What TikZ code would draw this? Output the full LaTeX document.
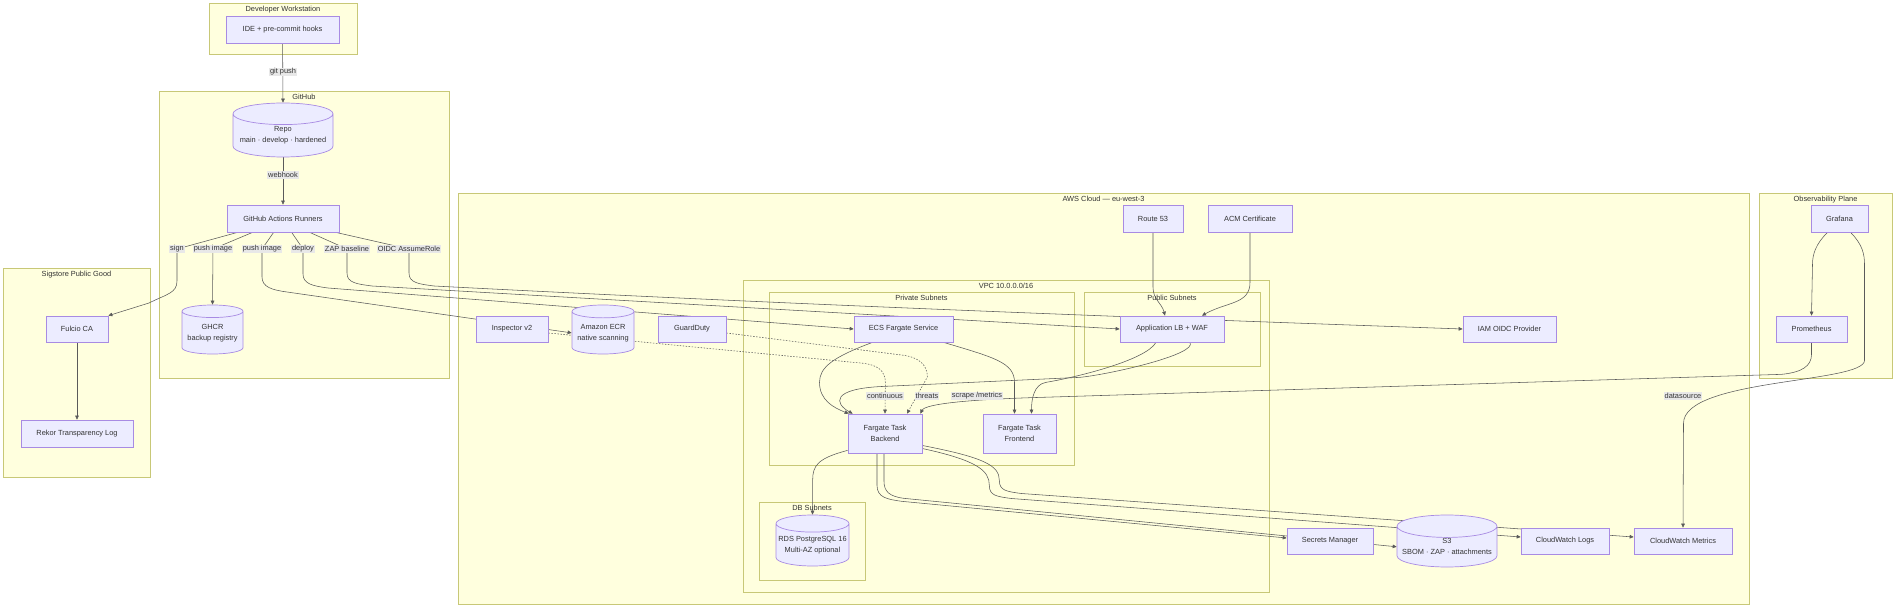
\documentclass[tikz,border=0pt]{standalone}
\usepackage{fontspec}
\setmainfont{Liberation Sans}
\usetikzlibrary{arrows.meta, shapes.geometric}
\definecolor{ink}{HTML}{333333}
\definecolor{wire}{HTML}{5A5A5A}
\definecolor{boxfill}{HTML}{ECECFF}
\definecolor{boxline}{HTML}{A88BE3}
\definecolor{grpfill}{HTML}{FFFFDE}
\definecolor{grpline}{HTML}{C8C877}
\definecolor{labfill}{HTML}{E8E8E8}
\pgfdeclarelayer{bg}
\pgfdeclarelayer{wires}
\pgfsetlayers{bg,wires,main}

\begin{document}
\begin{tikzpicture}[
    x=1pt, y=-1pt,
    every node/.style={font=\fontsize{7.4}{11}\selectfont, text=ink},
    svc/.style={rectangle, draw=boxline, fill=boxfill, line width=0.7pt,
                align=center, inner sep=0pt},
    store/.style={cylinder, shape border rotate=90, aspect=0.25, draw=boxline,
                  fill=boxfill, line width=0.7pt, align=center, inner sep=0pt,
                  anchor=shape center},
    grp/.style={draw=grpline, fill=grpfill, line width=0.6pt},
    grptitle/.style={anchor=north, inner xsep=1pt, inner ysep=3pt},
    elab/.style={fill=labfill, inner sep=1pt},
    arr/.style={-{Triangle[length=4pt, width=3.6pt]}, draw=wire, line width=0.55pt},
    dotarr/.style={arr, dash pattern=on 1.5pt off 1.5pt},
]
\useasboundingbox (0,0) rectangle (1904,612);

% ================================================================ groups
\begin{pgfonlayer}{bg}
\fill[white] (0,0) rectangle (1904,612);
\draw[grp] (209,3) rectangle (357,54);
\draw[grp] (159,91) rectangle (449,378);
\draw[grp] (3,268) rectangle (150,477);
\draw[grp] (458,193) rectangle (1749,604);
\draw[grp] (743,280) rectangle (1269,592);
\draw[grp] (769,292) rectangle (1074,465);
\draw[grp] (1084,292) rectangle (1260,366);
\draw[grp] (759,502) rectangle (865,580);
\draw[grp] (1759,193) rectangle (1892,378);
\end{pgfonlayer}

\node[grptitle] (tdev)  at (283,3)    {Developer Workstation};
\node[grptitle] (tgh)   at (304,91)   {GitHub};
\node[grptitle] (tsig)  at (76.5,268) {Sigstore Public Good};
\node[grptitle] (taws)  at (1103.5,193) {AWS Cloud — eu-west-3};
\node[grptitle] (tvpc)  at (1006,280) {VPC 10.0.0.0/16};
\node[grptitle] (tpriv) at (921.5,292) {Private Subnets};
\node[grptitle] (tpub)  at (1172,292) {Public Subnets};
\node[grptitle] (tdb)   at (812,502)  {DB Subnets};
\node[grptitle] (tobs)  at (1825.5,193) {Observability Plane};

% ================================================================ nodes
\node[svc, minimum width=113, minimum height=27] (ide) at (282.5,29.5) {IDE + pre-commit hooks};
\node[store, minimum width=100, minimum height=54] (repo) at (283,130)
     {Repo\\main · develop · hardened};
\node[svc, minimum width=112, minimum height=27] (run) at (283,218.5) {GitHub Actions Runners};
\node[store, minimum width=61, minimum height=49] (ghcr) at (212.5,329.5)
     {GHCR\\backup registry};

\node[svc, minimum width=62, minimum height=26] (fulcio) at (77,329) {Fulcio CA};
\node[svc, minimum width=112, minimum height=27] (rekor) at (77,433.5) {Rekor Transparency Log};

\node[svc, minimum width=72, minimum height=26] (insp) at (512,329) {Inspector v2};
\node[store, minimum width=62, minimum height=49] (ecr) at (603,329.5)
     {Amazon ECR\\native scanning};
\node[svc, minimum width=68, minimum height=26] (gd) at (692,329) {GuardDuty};
\node[svc, minimum width=60, minimum height=27] (route) at (1153,218.5) {Route 53};
\node[svc, minimum width=84, minimum height=27] (acm) at (1250,218.5) {ACM Certificate};
\node[svc, minimum width=99, minimum height=26] (ecs) at (903.5,329) {ECS Fargate Service};
\node[svc, minimum width=104, minimum height=26] (alb) at (1172,329) {Application LB + WAF};
\node[svc, minimum width=93, minimum height=26] (iam) at (1509.5,329) {IAM OIDC Provider};
\node[svc, minimum width=74, minimum height=39] (back) at (885,433.5) {Fargate Task\\Backend};
\node[svc, minimum width=73, minimum height=39] (front) at (1019.5,433.5) {Fargate Task\\Frontend};
\node[store, minimum width=73, minimum height=51] (rds) at (812.5,540.5)
     {RDS PostgreSQL 16\\Multi-AZ optional};
\node[svc, minimum width=86, minimum height=26] (sm) at (1330,541) {Secrets Manager};
\node[store, minimum width=100, minimum height=52] (s3) at (1447,541)
     {S3\\SBOM · ZAP · attachments};
\node[svc, minimum width=88, minimum height=26] (cwl) at (1565,541) {CloudWatch Logs};
\node[svc, minimum width=98, minimum height=26] (cwm) at (1683,541) {CloudWatch Metrics};

\node[svc, minimum width=57, minimum height=27] (graf) at (1839.5,218.5) {Grafana};
\node[svc, minimum width=71, minimum height=26] (prom) at (1811.5,329) {Prometheus};

% ================================================================ edge labels
\node[elab] (lgit)    at (283,72)   {git push};
\node[elab] (lhook)   at (283,175)  {webhook};
\node[elab] (lsign)   at (177,249)  {sign};
\node[elab] (lpushg)  at (213,249)  {push image};
\node[elab] (lpushe)  at (262,249)  {push image};
\node[elab] (ldeploy) at (303,249)  {deploy};
\node[elab] (lzap)    at (347,249)  {ZAP baseline};
\node[elab] (loidc)   at (409,249)  {OIDC AssumeRole};
\node[elab] (lcont)   at (885,396)  {continuous};
\node[elab] (lthreat) at (927,396)  {threats};
\node[elab] (lscrape) at (977,396)  {scrape /metrics};
\node[elab] (ldata)   at (1683,396) {datasource};

% ================================================================ edges
\begin{pgfonlayer}{wires}
\draw[arr] (ide) -- (repo.north);
\draw[arr] (repo.south) -- (run.north);

% runner fan-out
\draw[arr] ([xshift=11pt]run.south west) -- (lsign.center) -- ++(0,32)
     .. controls +(0,12) and +(18,-9) .. ++(-28,22) -- (fulcio.north east);
\draw[arr] ([xshift=26pt]run.south west) -- (lpushg.center) -- (ghcr.north);
\draw[arr] ([xshift=47pt]run.south west) -- (lpushe.center) -- ++(0,28)
     .. controls +(0,10) and +(-15,-2) .. ++(25,15) -- (ecr.west);
\draw[arr] ([xshift=65pt]run.south west) -- (ldeploy.center) -- ++(0,25)
     .. controls +(0,10) and +(-15,-2) .. ++(25,14) -- (ecs.west);
\draw[arr] ([xshift=83pt]run.south west) -- (lzap.center) -- ++(0,24)
     .. controls +(0,10) and +(-15,-2) .. ++(25,13) -- (alb.west);
\draw[arr] ([xshift=109pt]run.south west) -- (loidc.center) -- ++(0,24)
     .. controls +(0,10) and +(-15,-2) .. ++(25,13)
     .. controls +(366,19) and +(-313,-11) .. (iam.west);

\draw[arr] (fulcio) -- (rekor);

% edge of the cloud
\draw[arr] (route.south) -- ++(0,55) .. controls +(0,12) and +(-3,-12) .. ([xshift=-7pt]alb.north);
\draw[arr] (acm.south) -- ++(0,50) .. controls +(0,22) and +(25,-14) .. ([xshift=30pt]alb.north);
\draw[arr] ([xshift=-16pt]alb.south) .. controls +(-10,18) and +(30,-5) .. ++(-110,40)
     .. controls +(-12,2) and +(0,-15) .. ([xshift=12pt]front.north);
\draw[arr] ([xshift=18pt]alb.south) .. controls +(8,12) and +(30,-3) .. ++(-110,35) -- ++(-195,9)
     .. controls +(-55,2) and +(-18,-10) .. ([xshift=5pt]back.north west);
\draw[arr] ([xshift=-31pt]ecs.south) .. controls +(-40,15) and +(0,-15) .. ++(-53,40)
     .. controls +(0,18) and +(-15,-6) .. ([xshift=1pt]back.north west);
\draw[arr] ([xshift=40pt]ecs.south) .. controls +(50,15) and +(0,-20) .. ++(71,40)
     -- ([xshift=-5pt]front.north);

% scanners
\draw[dotarr] ([yshift=-4pt]insp.east) -- ++(312,30)
     .. controls +(18,1.5) and +(0,-12) .. ++(25,20) -- (back.north);
\draw[dotarr] ([yshift=-4pt]gd.east) -- ++(175,22)
     .. controls +(18,2) and +(0,-12) .. ++(26,22) -- ([xshift=22pt]back.north);

% backend out
\draw[arr] ([yshift=3pt]back.south west) .. controls +(-30,8) and +(0,-15) .. ++(-35,30) -- (rds.north);
\draw[arr] ([xshift=-8pt]back.south) -- ++(0,32)
     .. controls +(0,12) and +(-15,-2) .. ++(25,16) -- ([yshift=3pt]sm.west);
\draw[arr] ([xshift=-1pt]back.south) -- ++(0,28)
     .. controls +(0,10) and +(-15,-2) .. ++(20,17) -- (s3.west);
\draw[arr] ([yshift=-15pt]back.east) .. controls +(55,12) and +(0,-15) .. ++(67,37)
     .. controls +(0,10) and +(-15,-2) .. ++(22,13) -- ([yshift=4pt]cwl.west);
\draw[arr] ([yshift=-12pt]back.east) .. controls +(62,12) and +(0,-15) .. ++(77,35)
     .. controls +(0,10) and +(-15,-2) .. ++(22,13) -- ([yshift=4pt]cwm.west);

% observability
\draw[arr] ([xshift=-12pt]graf.south) .. controls +(-12,12) and +(0,-10) .. ++(-15,32) -- (prom.north);
\draw[arr] ([xshift=11pt]graf.south) .. controls +(12,12) and +(0,-10) .. ++(14,32) -- ++(0,96)
     .. controls +(0,23) and +(0,-45) .. ++(-181,63) -- (cwm.north);
\draw[arr] (prom.south) -- ++(0,12) .. controls +(0,12) and +(20,-2) .. ++(-30,20) -- ++(-740,23)
     .. controls +(-70,2) and +(5,-10) .. ([xshift=-2pt]back.north east);
\end{pgfonlayer}

\end{tikzpicture}
\end{document}
